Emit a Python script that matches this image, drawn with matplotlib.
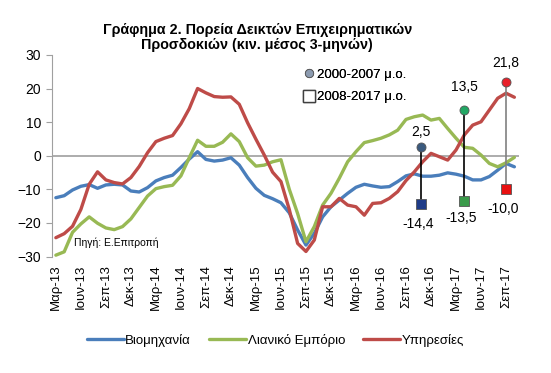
import matplotlib.pyplot as plt
import numpy as np

plt.rcParams['font.family'] = ['Liberation Sans', 'DejaVu Sans']

# monthly data, Mar-13 .. Oct-17
tick_labels = ['Μαρ-13', 'Ιουν-13', 'Σεπ-13', 'Δεκ-13', 'Μαρ-14', 'Ιουν-14', 'Σεπ-14',
               'Δεκ-14', 'Μαρ-15', 'Ιουν-15', 'Σεπ-15', 'Δεκ-15', 'Μαρ-16', 'Ιουν-16',
               'Σεπ-16', 'Δεκ-16', 'Μαρ-17', 'Ιουν-17', 'Σεπ-17']

industry = [-12.5, -11.9, -10.2, -9.1, -8.6, -9.7, -8.7, -8.5, -8.7, -10.5,
            -10.8, -9.5, -7.5, -6.5, -5.8, -3.5, -1.0, 1.2, -1.1, -1.6,
            -1.3, -0.6, -2.8, -6.5, -9.7, -11.8, -12.8, -14.0, -17.0, -22.1,
            -26.6, -23.1, -18.2, -15.2, -13.2, -11.2, -9.4, -8.5, -9.0, -9.4,
            -9.2, -7.7, -6.0, -5.4, -6.1, -6.1, -5.8, -5.1, -5.5, -6.1,
            -7.2, -7.2, -6.2, -4.3, -2.3, -3.3]
retail = [-29.6, -28.6, -22.8, -20.3, -18.2, -20.1, -21.5, -22.0, -21.1, -18.8,
          -15.4, -12.0, -9.8, -9.2, -8.8, -6.0, -0.6, 4.6, 2.8, 2.8,
          4.0, 6.5, 4.2, -0.6, -3.1, -2.8, -1.8, -1.2, -10.0, -17.2,
          -25.6, -21.1, -14.7, -11.2, -6.7, -1.8, 1.2, 3.9, 4.5, 5.2,
          6.2, 7.6, 10.8, 11.6, 12.1, 10.6, 11.1, 8.1, 5.2, 2.5,
          2.2, 0.2, -2.3, -3.3, -2.1, -0.5]
services = [-24.4, -23.2, -21.0, -16.0, -8.5, -4.8, -7.2, -8.0, -8.4, -6.5,
            -3.2, 0.9, 4.2, 5.2, 6.0, 9.5, 14.0, 20.0, 18.7, 17.6,
            17.4, 17.5, 15.3, 9.8, 4.9, 0.2, -4.9, -7.7, -16.0, -26.1,
            -28.5, -25.1, -15.2, -15.2, -12.7, -14.7, -15.2, -17.7, -14.2, -14.0,
            -12.7, -10.7, -7.4, -4.8, -1.8, 0.7, -0.3, -1.3, 1.7, 6.2,
            9.1, 10.1, 13.6, 17.1, 18.6, 17.4]

# long-run averages (circles: 2000-2007, squares: 2008-2017)
avg_pos = [43.8, 49, 54]
avg_2000_2007 = [2.5, 13.5, 21.8]
avg_2008_2017 = [-14.4, -13.5, -10.0]

names = ['Βιομηχανία', 'Λιανικό Εμπόριο', 'Υπηρεσίες']
colors = ['#4A7EBB', '#98B954', '#BE4B48']
circle_colors = ['#3B5A7E', '#22A764', '#E8202A']
square_colors = ['#1F3C88', '#3A9A4A', '#E81010']
stem_colors = ['#000000', '#000000', '#808080']

fig = plt.figure(figsize=(5.51, 3.73), dpi=100)
ax = fig.add_axes([0.0938, 0.3123, 0.8473, 0.5405])

x = np.arange(len(industry))
ax.axhline(0, color='#A6A6A6', lw=1.3, zorder=1)
lines = []
for vals, name, c in zip([industry, retail, services], names, colors):
    l, = ax.plot(x, vals, color=c, lw=2.4, label=name, solid_joinstyle='round',
                 solid_capstyle='round', zorder=3)
    lines.append(l)

for i in range(3):
    ax.plot([avg_pos[i], avg_pos[i]], [avg_2008_2017[i], avg_2000_2007[i]],
            color=stem_colors[i], lw=1.2, zorder=4)
    ax.plot(avg_pos[i], avg_2000_2007[i], 'o', ms=6.5, color=circle_colors[i],
            mec='#555555', mew=0.6, zorder=5)
    ax.plot(avg_pos[i], avg_2008_2017[i], 's', ms=6.5, color=square_colors[i],
            mec='#555555', mew=0.6, zorder=5)

up_off = [11, 17, 14]
down_off = [14, 12, 14]
for i in range(3):
    ax.annotate(f'{avg_2000_2007[i]:.1f}'.replace('.', ','), (avg_pos[i], avg_2000_2007[i]),
                xytext=(0, up_off[i]), textcoords='offset points',
                ha='center', va='center', fontsize=10)
    ax.annotate(f'{avg_2008_2017[i]:.1f}'.replace('.', ','), (avg_pos[i], avg_2008_2017[i]),
                xytext=(-2, -down_off[i]), textcoords='offset points',
                ha='center', va='center', fontsize=10)

ax.set_xlim(-0.5, len(industry) - 0.5)
ax.set_ylim(-30, 30)
ax.set_yticks(range(-30, 31, 10))
ax.set_xticks(range(0, len(industry), 3))
ax.set_xticklabels(tick_labels, rotation=90, fontsize=9.5)
ax.tick_params(axis='x', length=0, pad=6)
ax.tick_params(axis='y', labelsize=10, length=4, color='#A0A0A0', direction='out')
for s in ['top', 'right', 'bottom']:
    ax.spines[s].set_visible(False)
ax.spines['left'].set_color('#A0A0A0')

# small in-plot legend for the averages
h1, = ax.plot([], [], 'o', ms=6, color='#8C9BB0', mec='#555555', mew=0.6)
h2, = ax.plot([], [], 's', ms=8, mfc='white', mec='#404040', mew=1.0)
leg = ax.legend([h1, h2], ['2000-2007 μ.ο.', '2008-2017 μ.ο.'], loc='upper left',
                bbox_to_anchor=(0.515, 0.99), frameon=False, fontsize=9.5,
                handlelength=0.8, handletextpad=0.2, labelspacing=0.75)
ax.add_artist(leg)

ax.text(0.048, 0.067, 'Πηγή: Ε.Επιτροπή', transform=ax.transAxes, fontsize=7.5,
        va='center', ha='left')

fig.legend(lines, names, loc='center', bbox_to_anchor=(0.5, 0.088), ncol=3,
           frameon=False, fontsize=9.5, handlelength=2.8, handletextpad=0.1,
           columnspacing=1.4)

fig.text(0.467, 0.9, 'Γράφημα 2. Πορεία Δεικτών Επιχειρηματικών\nΠροσδοκιών (κιν. μέσος 3-μηνών)',
         ha='center', va='center', fontsize=10.3, fontweight='bold', linespacing=1.05)

fig.savefig('out.png', dpi=100)
